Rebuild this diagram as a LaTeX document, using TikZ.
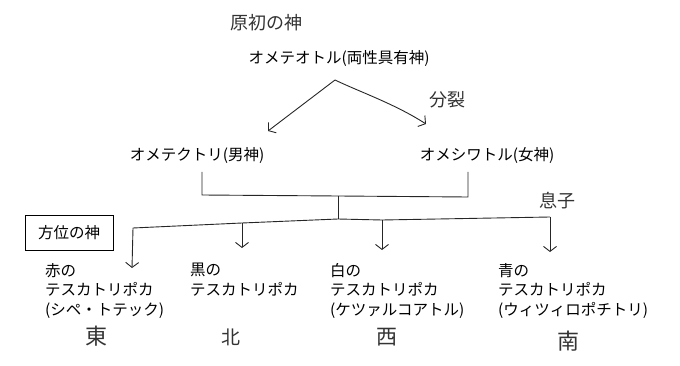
\documentclass[tikz,border=0pt]{standalone}
\usepackage{fontspec}
\setmainfont{Noto Sans CJK JP}
\usetikzlibrary{arrows.meta}
\begin{document}
\begin{tikzpicture}[x=1pt,y=-1pt,
 lbl/.style={font=\fontsize{15.5}{19.5}\selectfont, inner sep=0pt},
 block/.style={lbl, align=left, anchor=north west},
 hand/.style={font=\fontsize{18}{20}\selectfont, inner sep=0pt, text=black!80},
 ln/.style={line width=0.9pt, draw=black!85},
 tip/.style={-{Straight Barb[length=5pt,width=13pt]}},
]
\useasboundingbox (0,0) rectangle (680,366);

% top
\node[hand] (origin) at (266,23) {原初の神};
\node[lbl] (ometeotl) at (339,59) {オメテオトル(両性具有神)};
\coordinate (peak) at (335,80);
\coordinate (al) at (268,131);
\coordinate (ar) at (426,124);
\draw[ln,tip] (peak) -- (al);
\draw[ln,tip] (peak) .. controls (360,92) and (395,104) .. (ar);
\node[hand] (split) at (447,100) {分裂};

% second level
\node[lbl] (male) at (197,156) {オメテクトリ(男神)};
\node[lbl] (female) at (487,156) {オメシワトル(女神)};
\coordinate (bl) at (202,172);
\coordinate (br) at (468,172);
\coordinate (stemtop) at (338,196);
\coordinate (stembot) at (338,219);
\draw[ln] (bl) -- (202,195) -- (338,196) -- (468,197) -- (br);
\draw[ln] (stemtop) -- (stembot);
\node[hand] (son) at (557,201) {息子};

% distributor
\node[lbl, draw, line width=1pt, minimum width=88pt, minimum height=35pt] (dir) at (69,233) {方位の神};
\coordinate (d1) at (133,228);
\coordinate (d2) at (242,223);
\coordinate (d3) at (382,220);
\coordinate (d4) at (550,217);
\draw[ln] (d1) -- (d2) -- (stembot) -- (d3) -- (d4);
\coordinate (a1) at (132,268);
\coordinate (a2) at (242,248);
\coordinate (a3) at (382,250);
\coordinate (a4) at (550,252);
\draw[ln,tip] (d1) -- (a1);
\draw[ln,tip] (d2) -- (a2);
\draw[ln,tip] (d3) -- (a3);
\draw[ln,tip] (d4) -- (a4);

% bottom texts
\node[block] (red) at (45,263) {赤の\\テスカトリポカ\\(シペ・トテック)};
\node[block] (black) at (190,263) {黒の\\テスカトリポカ};
\node[block] (white) at (330,263) {白の\\テスカトリポカ\\(ケツァルコアトル)};
\node[block] (blue) at (498,263) {青の\\テスカトリポカ\\(ウィツィロポチトリ)};

\node[hand, font=\fontsize{22}{24}\selectfont] (east) at (96,336) {東};
\node[hand, font=\fontsize{19}{21}\selectfont] (north) at (231,337) {北};
\node[hand, font=\fontsize{21}{23}\selectfont] (west) at (387,337) {西};
\node[hand, font=\fontsize{22}{24}\selectfont] (south) at (568,341) {南};
\end{tikzpicture}
\end{document}
